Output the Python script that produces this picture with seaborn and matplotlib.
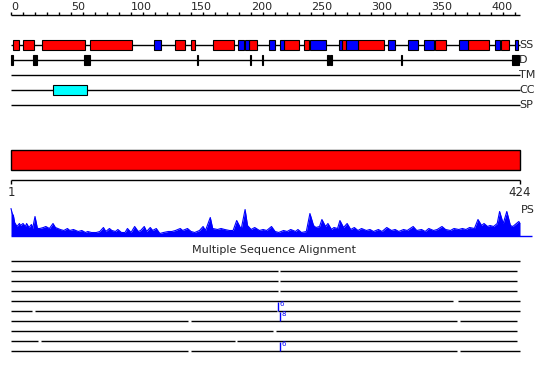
import matplotlib
matplotlib.use("Agg")
import matplotlib.pyplot as plt
from matplotlib.patches import Rectangle
import seaborn as sns
import pandas as pd

# residue ranges (protein length 424)
seq_len = 424
ss_helix = [(2, 7), (10, 19), (26, 62), (66, 101), (137, 145), (150, 153), (168, 186),
            (198, 205), (227, 240), (244, 248), (276, 279), (289, 311), (353, 362),
            (381, 398), (408, 415)]
ss_strand = [(119, 125), (189, 194), (195, 198), (215, 220), (224, 227), (249, 262),
             (273, 276), (279, 289), (314, 320), (331, 339), (344, 352), (373, 381),
             (403, 407), (420, 422)]
disorder = [(0, 2), (18, 22), (61, 66), (155, 156), (199, 200), (209, 210), (263, 264.5),
            (266, 267.5), (325, 326), (417, 423)]
coiled_coil = [(35, 63)]
track_names = ['SS', 'D', 'TM', 'CC', 'SP']

# PS profile: residue position and height
ps_pos = [0, 1, 2, 3, 5, 7, 8, 10, 12, 13, 15, 17, 18, 20, 22, 24, 27, 29, 32, 35, 37, 41,
          44, 47, 49, 52, 56, 59, 62, 64, 67, 71, 74, 77, 79, 82, 84, 87, 89, 92, 95, 97,
          100, 103, 106, 108, 111, 113, 116, 118, 121, 124, 127, 131, 134, 137, 141, 143,
          147, 150, 153, 157, 160, 162, 166, 168, 172, 175, 178, 182, 185, 188, 191, 192,
          195, 197, 200, 203, 207, 210, 213, 217, 220, 223, 227, 230, 233, 237, 239, 242,
          246, 249, 252, 254, 257, 259, 262, 264, 267, 269, 272, 274, 277, 280, 283, 286,
          289, 292, 296, 299, 302, 306, 309, 313, 317, 320, 323, 327, 330, 335, 338, 342,
          345, 348, 352, 355, 359, 362, 366, 369, 373, 376, 379, 382, 386, 389, 392, 394,
          397, 399, 402, 405, 407, 410, 413, 416, 418, 421, 423, 424]
ps_val = [27, 22, 20, 13, 9, 12, 10, 12, 9, 12, 8, 11, 7, 19, 7, 7, 8, 9, 7, 12, 8, 6,
          5, 7, 5, 6, 4, 5, 3, 4, 3, 3, 4, 8, 4, 7, 5, 4, 6, 3, 3, 7,
          3, 9, 4, 5, 9, 4, 8, 5, 7, 2, 3, 4, 4, 5, 7, 5,
          7, 4, 3, 5, 9, 5, 18, 7, 6, 7, 6, 5, 5, 15, 8, 8,
          26, 10, 6, 8, 5, 6, 5, 9, 4, 3, 5, 4, 6, 4, 6, 3,
          4, 22, 10, 8, 9, 16, 9, 12, 6, 8, 7, 15, 8, 12, 6, 8,
          5, 7, 5, 6, 4, 6, 4, 8, 5, 6, 4, 6, 5, 9, 5, 6,
          4, 7, 5, 6, 9, 6, 5, 7, 6, 7, 6, 8, 7, 16, 10, 12,
          9, 10, 9, 12, 24, 12, 24, 10, 9, 12, 14, 12]

# multiple sequence alignment rows: aligned segments
msa_rows = [
    [(0, 424)],
    [(0, 222), (224, 421.5)],
    [(0, 222), (224, 421.5)],
    [(0, 222), (224, 421.5)],
    [(0, 368), (372, 424)],
    [(0, 17.5), (20, 221.5), (222.5, 424)],
    [(0, 147.5), (150, 371.5), (374, 421.5)],
    [(0, 218), (221, 421.5)],
    [(0, 22.5), (25, 186.5), (188.5, 421.5)],
    [(0, 147.5), (150, 371.5), (374, 424)],
]
msa_inserts = [(5, 222.5, '6'), (6, 224, '8'), (9, 224, '6')]

sns.set_theme(style="white")
plt.rcParams['font.family'] = ['DejaVu Sans']

fig = plt.figure(figsize=(5.5, 3.8), dpi=100)
ax = fig.add_axes([0, 0, 1, 1])
px = 1.2005  # pixels per residue
ax.set_xlim(-11 / px, 539 / px)
ax.set_ylim(380, 0)
ax.axis('off')

# top ruler
ax.hlines(15, 0, 509 / px, color='black', lw=1)
ax.vlines(range(0, 421, 10), 12, 15, color='black', lw=1)
for t in range(0, 401, 50):
    ax.text(t, 12, str(t), ha='left', va='bottom', fontsize=8)

# feature tracks
track_y = [45, 60, 75, 90, 105]
for name, y in zip(track_names, track_y):
    ax.hlines(y, 0, 509 / px, color='black', lw=1, zorder=1)
    ax.text(508 / px, y, name, ha='left', va='center', fontsize=8)


def boxes(ranges, y, color):
    for s, e in ranges:
        ax.add_patch(Rectangle((s, y - 5), e - s, 10, facecolor=color,
                               edgecolor='black', lw=0.8, zorder=2))


boxes(ss_helix, 45, '#ff0000')
boxes(ss_strand, 45, '#0000ff')
boxes(disorder, 60, 'black')
boxes(coiled_coil, 90, '#00ffff')

# full-length domain bar
ax.add_patch(Rectangle((0, 150), seq_len, 20, facecolor='#ff0000', edgecolor='black', lw=1))

# bottom scale
ax.hlines(180, 0, seq_len, color='black', lw=1)
ax.vlines([0, seq_len], 180, 184, color='black', lw=1)
ax.text(0, 186, '1', ha='center', va='top', fontsize=8.5)
ax.text(seq_len, 186, str(seq_len), ha='center', va='top', fontsize=8.5)
ax.text(510 / px, 210, 'PS', ha='left', va='center', fontsize=8)

# PS profile
base = 235.5
ps = pd.DataFrame({'pos': ps_pos, 'y': [base - v for v in ps_val]})
ax.fill_between(ps['pos'], base, ps['y'], color='#0000ff', lw=0)
sns.lineplot(data=ps, x='pos', y='y', ax=ax, color='#0000ff', lw=0.8)
ax.hlines(base, 0, 521 / px, color='#0000ff', lw=1)
ax.set_xlim(-11 / px, 539 / px)
ax.set_ylim(380, 0)

# multiple sequence alignment
ax.text(263 / px, 250, 'Multiple Sequence Alignment', ha='center', va='center', fontsize=8)
for i, segs in enumerate(msa_rows):
    y = 260.7 + 10 * i
    for s, e in segs:
        ax.hlines(y, s, e, color='black', lw=1)
for i, pos, lab in msa_inserts:
    y = 260.7 + 10 * i
    ax.vlines(pos, y - 9, y, color='#0000ff', lw=1)
    ax.text(pos + 1, y - 9.5, lab, color='#0000ff', ha='left', va='top', fontsize=5)

fig.savefig('out.png', dpi=100)
